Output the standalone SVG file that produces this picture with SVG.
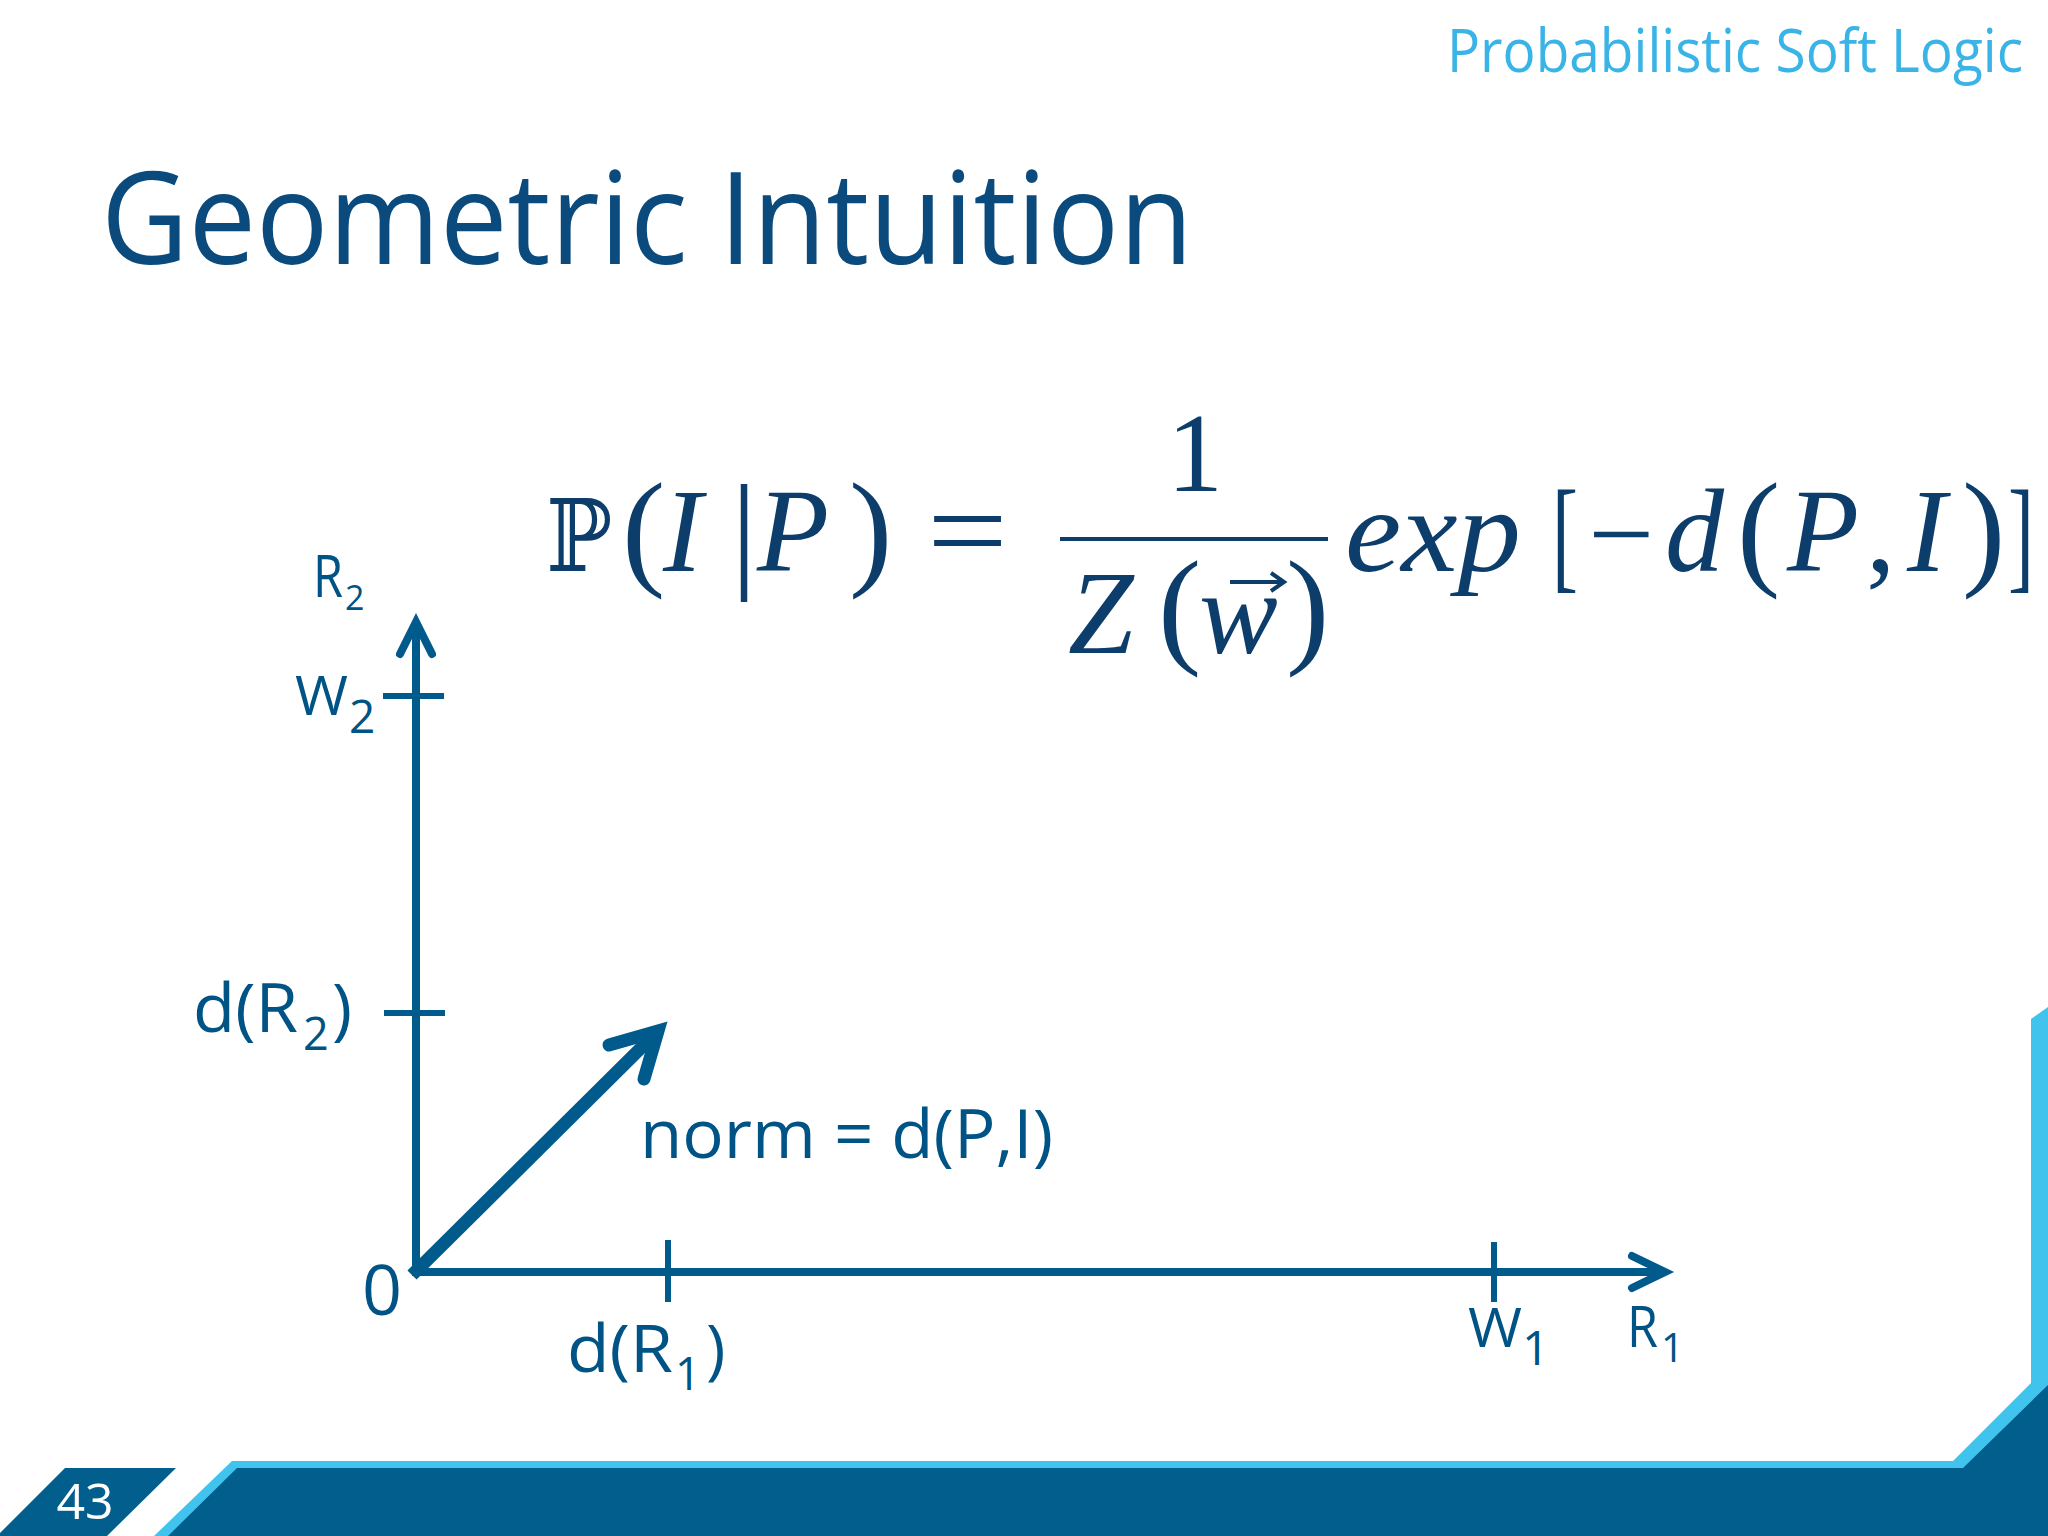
<svg xmlns="http://www.w3.org/2000/svg" width="2048" height="1536" viewBox="0 0 2048 1536">
<style>
.hdr{font-family:"Open Sans","Liberation Sans",sans-serif;fill:#3AB4E6;}
.ttl{font-family:"Open Sans","Liberation Sans",sans-serif;fill:#0A4A7C;}
.lbl{font-family:"Open Sans","Liberation Sans",sans-serif;fill:#005385;}
.m{font-family:"Liberation Serif","DejaVu Serif",serif;fill:#0C3D6B;}
.mi{font-family:"Liberation Serif","DejaVu Serif",serif;font-style:italic;fill:#0C3D6B;}
.ax{stroke:#005A8B;stroke-width:8;fill:none;}
.tick{stroke:#005A8B;stroke-width:6;fill:none;}
.head{stroke:#005A8B;stroke-width:8;fill:none;stroke-linecap:round;stroke-linejoin:miter;}
</style>
<rect width="2048" height="1536" fill="#FFFFFF"/>

<g id="frame">
  <polygon points="2031,1019 2048,1007 2048,1536 154,1536 232,1461 1953,1461 2031,1383" fill="#40C4EE"/>
  <polygon points="2048,1385 1963,1468 237,1468 168,1536 2048,1536" fill="#025E8C"/>
  <polygon points="65,1468 176,1468 107,1536 -3,1536" fill="#025E8C"/>
  <text x="85" y="1519" text-anchor="middle" font-family="'Open Sans','Liberation Sans',sans-serif" font-size="50" fill="#FFFFFF">43</text>
</g>

<g id="header">
  <text class="hdr" x="1447" y="72" font-size="60" textLength="576" lengthAdjust="spacingAndGlyphs">Probabilistic Soft Logic</text>
</g>

<g id="title">
  <text class="ttl" x="101" y="264" font-size="128" textLength="1092" lengthAdjust="spacingAndGlyphs">Geometric Intuition</text>
</g>

<g id="formula">
  <text x="546" y="571" font-family="'DejaVu Serif','DejaVu Sans',serif" font-size="100" fill="#0C3D6B" textLength="66" lengthAdjust="spacingAndGlyphs">ℙ</text>
  <text class="m" x="622" y="572" font-size="130">(</text>
  <text class="mi" x="663" y="571" font-size="118">I</text>
  <text class="m" x="731" y="574" font-size="130">|</text>
  <text class="mi" x="757" y="571" font-size="118">P</text>
  <text class="m" x="849" y="572" font-size="130">)</text>
  <text class="m" x="927" y="571" font-size="118" textLength="81" lengthAdjust="spacingAndGlyphs">=</text>
  <line x1="1060" y1="539" x2="1328" y2="539" stroke="#0C3D6B" stroke-width="4"/>
  <text class="m" x="1195" y="491" font-size="112" text-anchor="middle">1</text>
  <text class="mi" x="1068" y="653" font-size="118">Z</text>
  <text class="m" x="1158" y="650" font-size="130">(</text>
  <text class="mi" x="1199" y="653" font-size="118">w</text>
  <path d="M1230,582 H1282 M1271,573 L1284,582 L1271,591" stroke="#0C3D6B" stroke-width="4" fill="none"/>
  <text class="m" x="1286" y="650" font-size="130">)</text>
  <text class="mi" x="1345" y="571" font-size="118" textLength="176" lengthAdjust="spacingAndGlyphs">exp</text>
  <text class="m" x="1552" y="576" font-size="124" textLength="26" lengthAdjust="spacingAndGlyphs">[</text>
  <text class="m" x="1588" y="571" font-size="110" textLength="66" lengthAdjust="spacingAndGlyphs">−</text>
  <text class="mi" x="1665" y="571" font-size="118">d</text>
  <text class="m" x="1737" y="572" font-size="130">(</text>
  <text class="mi" x="1787" y="571" font-size="118">P</text>
  <text class="m" x="1866" y="571" font-size="118">,</text>
  <text class="mi" x="1907" y="571" font-size="118">I</text>
  <text class="m" x="1962" y="572" font-size="130">)</text>
  <text class="m" x="2008" y="576" font-size="124" textLength="26" lengthAdjust="spacingAndGlyphs">]</text>
</g>

<g id="connectors">
  <line class="ax" x1="416" y1="1276" x2="416" y2="626"/>
  <polyline class="head" points="400,654 416,622 432,654"/>
  <line class="ax" x1="412" y1="1272" x2="1662" y2="1272"/>
  <polyline class="head" points="1632,1256 1665,1272 1632,1288"/>
  <line class="tick" x1="383" y1="696" x2="444" y2="696"/>
  <line class="tick" x1="384" y1="1013" x2="445" y2="1013"/>
  <line class="tick" x1="668" y1="1240" x2="668" y2="1302"/>
  <line class="tick" x1="1494" y1="1242" x2="1494" y2="1302"/>
  <line x1="412" y1="1275" x2="652" y2="1037" stroke="#005A8B" stroke-width="13"/>
  <polyline points="609,1045 658,1031 644,1079" stroke="#005A8B" stroke-width="13" fill="none" stroke-linecap="round" stroke-linejoin="miter"/>
</g>

<g id="labels">
  <g id="label-R2">
    <text class="lbl" x="313" y="597" font-size="58" textLength="30" lengthAdjust="spacingAndGlyphs">R</text>
    <text class="lbl" x="345" y="610" font-size="34">2</text>
  </g>
  <g id="label-W2">
    <text class="lbl" x="295" y="715" font-size="55" textLength="53" lengthAdjust="spacingAndGlyphs">W</text>
    <text class="lbl" x="349" y="733" font-size="46">2</text>
  </g>
  <g id="label-dR2">
    <text class="lbl" x="193" y="1032" font-size="68" textLength="105" lengthAdjust="spacingAndGlyphs">d(R</text>
    <text class="lbl" x="303" y="1050" font-size="45">2</text>
    <text class="lbl" x="332" y="1032" font-size="68">)</text>
  </g>
  <g id="label-0">
    <text class="lbl" x="382" y="1315" font-size="70" text-anchor="middle">0</text>
  </g>
  <g id="label-dR1">
    <text class="lbl" x="567" y="1372" font-size="66" textLength="106" lengthAdjust="spacingAndGlyphs">d(R</text>
    <text class="lbl" x="675" y="1390" font-size="45">1</text>
    <text class="lbl" x="706" y="1372" font-size="66">)</text>
  </g>
  <g id="label-W1">
    <text class="lbl" x="1468" y="1347" font-size="54" textLength="54" lengthAdjust="spacingAndGlyphs">W</text>
    <text class="lbl" x="1522" y="1365" font-size="48">1</text>
  </g>
  <g id="label-R1">
    <text class="lbl" x="1627" y="1347" font-size="56" textLength="31" lengthAdjust="spacingAndGlyphs">R</text>
    <text class="lbl" x="1661" y="1362" font-size="40">1</text>
  </g>
  <g id="label-norm">
    <text class="lbl" x="640" y="1158" font-size="67" textLength="413" lengthAdjust="spacingAndGlyphs">norm = d(P,I)</text>
  </g>
</g>
</svg>
